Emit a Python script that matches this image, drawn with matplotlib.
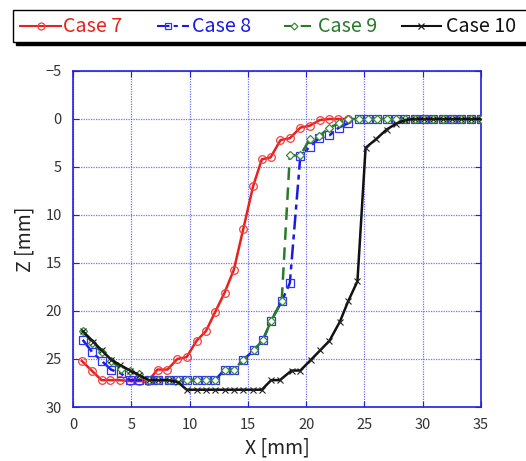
import matplotlib
matplotlib.use("Agg")
import matplotlib.pyplot as plt
from matplotlib.lines import Line2D
from matplotlib.patches import Rectangle

plt.rcParams['font.family'] = ['Noto Sans CJK KR', 'DejaVu Sans']

# Surface profiles Z(X) for each case
case7_x = [0.75, 1.6, 2.45, 3.2, 4.0, 4.85, 5.65, 6.45, 7.25, 8.1, 8.95, 9.75,
           10.6, 11.4, 12.2, 13.0, 13.8, 14.6, 15.45, 16.2, 16.95, 17.8, 18.6,
           19.5, 20.3, 21.2, 22.0, 22.75, 23.6]
case7_z = [25.2, 26.2, 27.2, 27.2, 27.2, 27.3, 27.3, 27.3, 26.1, 26.1, 25.0, 24.8,
           23.1, 22.1, 20.1, 18.1, 15.7, 11.5, 7.0, 4.2, 4.0, 2.2, 2.0,
           0.9, 0.7, 0.1, 0.0, 0.0, 0.0]

plateau_x = [24.5, 25.3, 26.1, 26.9, 27.7, 28.5, 29.3, 30.1, 30.9, 31.7, 32.5,
             33.3, 34.1, 35.0]

case8_x = [0.83, 1.66, 2.46, 3.26, 4.1, 4.9, 5.7, 6.5, 7.3, 8.2, 9.0, 9.8, 10.6,
           11.4, 12.2, 13.0, 13.8, 14.6, 15.5, 16.3, 17.0, 17.9, 18.6, 19.5,
           20.3, 21.1, 22.0, 22.8, 23.6] + plateau_x
case8_z = [23.0, 24.3, 25.2, 26.1, 26.5, 27.2, 27.2, 27.2, 27.2, 27.2, 27.2, 27.2,
           27.2, 27.2, 27.2, 26.1, 26.1, 25.1, 24.1, 23.0, 21.0, 19.0, 17.1, 3.9,
           2.9, 2.0, 1.7, 0.9, 0.45] + [0.0] * 14

case9_x = [0.83, 1.66, 2.46, 3.26, 4.1, 4.9, 5.7, 6.5, 7.3, 8.2, 9.0, 9.8, 10.6,
           11.4, 12.2, 13.0, 13.8, 14.6, 15.5, 16.3, 17.0, 17.9, 18.6, 19.5,
           20.3, 21.1, 22.0, 22.8, 23.6] + plateau_x
case9_z = [22.1, 23.3, 24.3, 25.2, 26.0, 26.3, 26.6, 27.2, 27.2, 27.2, 27.2, 27.2,
           27.2, 27.2, 27.2, 26.1, 26.1, 25.1, 24.1, 23.0, 21.0, 19.0, 3.8, 3.8,
           2.1, 1.8, 0.9, 0.45, 0.0] + [0.0] * 14

case10_x = [0.83, 1.74, 2.46, 3.3, 4.0, 4.9, 5.7, 6.5, 7.3, 8.2, 9.0, 9.75, 10.6,
            11.4, 12.2, 13.0, 13.8, 14.6, 15.4, 16.2, 17.0, 17.75, 18.75, 19.5,
            20.4, 21.2, 22.0, 22.9, 23.6, 24.4, 25.1, 26.0, 26.9, 27.7, 28.5,
            29.3, 30.1, 30.9, 31.7, 32.5, 33.3, 34.1, 35.0]
case10_z = [22.1, 23.2, 24.1, 25.1, 25.6, 26.2, 26.7, 27.2, 27.2, 27.2, 27.4, 28.2,
            28.2, 28.2, 28.2, 28.2, 28.2, 28.2, 28.2, 28.2, 27.2, 27.2, 26.2, 26.2,
            25.1, 24.1, 23.1, 21.1, 19.0, 16.9, 3.0, 2.1, 1.1, 0.5, 0.1,
            0.0, 0.0, 0.0, 0.0, 0.0, 0.0, 0.0, 0.0]

labels = ["Case 7", "Case 8", "Case 9", "Case 10"]
colors = ["#e8211d", "#1a1ae6", "#2a7a2a", "#111111"]
edge_colors = ["#f04040", "#3030ff", "#3a8a3a", "#222222"]
markers = ["o", "s", "D", "x"]
marker_sizes = [5.5, 5.5, 4.0, 5.0]
marker_faces = ["none", "none", "white", "none"]
styles = ["-", (0, (6, 2, 2, 2)), (0, (5, 3)), "-"]

W, H = 526, 461
fig = plt.figure(figsize=(W / 100, H / 100), dpi=100)
ax = fig.add_axes([73 / W, 1 - 407 / H, 408 / W, 336 / H])

axis_blue = "#2020e0"
grid_blue = "#5050e8"

series = [(case7_x, case7_z), (case8_x, case8_z), (case9_x, case9_z),
          (case10_x, case10_z)]
for i, (xs, zs) in enumerate(series):
    ax.plot(xs, zs, color=colors[i], lw=1.8, ls=styles[i], marker=markers[i],
            ms=marker_sizes[i], mfc=marker_faces[i], mec=edge_colors[i],
            mew=0.9 if i != 3 else 0.8, zorder=3 + i)

ax.set_xlim(0, 35)
ax.set_ylim(30, -5)
ax.set_xticks(range(0, 36, 5))
ax.set_yticks(range(-5, 31, 5))
ax.grid(True, color=grid_blue, ls=(0, (1, 1)), lw=0.9, alpha=0.8)
for sp in ax.spines.values():
    sp.set_color(axis_blue)
    sp.set_linewidth(1.2)
ax.tick_params(direction="in", length=4, color=axis_blue, labelcolor="#333333",
               labelsize=10.5, right=True, top=True, pad=8)
ax.set_xlabel("X [mm]", fontsize=14, color="#222222", labelpad=4)
ax.set_ylabel("Z [mm]", fontsize=14, color="#222222", labelpad=7)

# Legend strip across the top, running off the right edge
def fx(px):
    return px / W

def fy(py):
    return 1 - py / H

fig.add_artist(Rectangle((fx(16), fy(45)), fx(530) - fx(16), fy(13) - fy(45),
                         transform=fig.transFigure, facecolor="black",
                         edgecolor="black", zorder=1))
fig.add_artist(Rectangle((fx(13), fy(42)), fx(528) - fx(13), fy(10) - fy(42),
                         transform=fig.transFigure, facecolor="white",
                         edgecolor="black", lw=1.0, zorder=2))

handle_spans = [(20, 61, 41), (157, 189, 168), (284, 316, 294), (402, 441, 421)]
text_starts = [63, 192, 318, 446]
ly = fy(26)
for i in range(4):
    x0, x1, xm = handle_spans[i]
    fig.add_artist(Line2D([fx(x0), fx(x1)], [ly, ly], transform=fig.transFigure,
                          color=colors[i], lw=1.5, ls=styles[i], zorder=3))
    fig.add_artist(Line2D([fx(xm)], [ly], transform=fig.transFigure,
                          marker=markers[i], ms=marker_sizes[i] - 0.5,
                          mfc=marker_faces[i], mec=edge_colors[i], mew=0.9,
                          ls="none", zorder=4))
    fig.text(fx(text_starts[i]), ly, labels[i], color=colors[i], fontsize=14.2,
             ha="left", va="center", zorder=5)

fig.savefig("out.png", dpi=100)
